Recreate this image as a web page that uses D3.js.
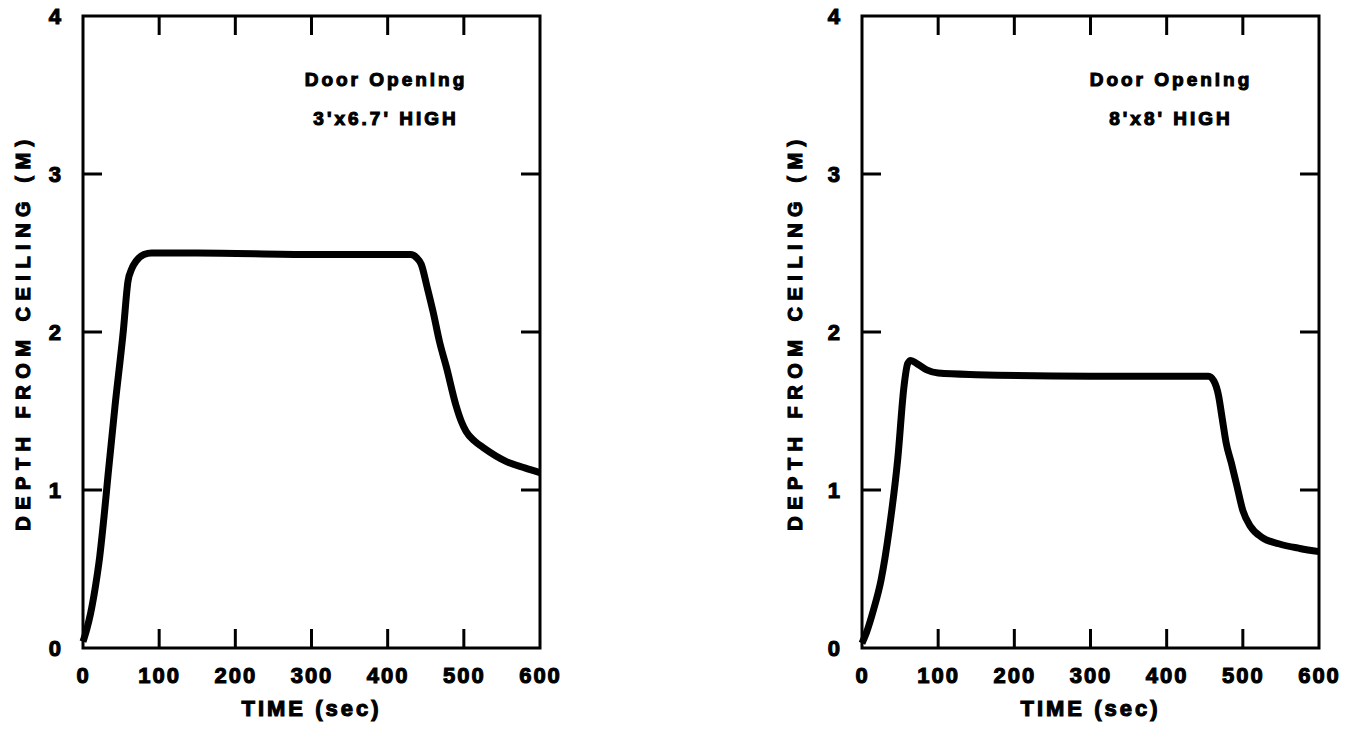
<!DOCTYPE html>
<html>
<head>
<meta charset="utf-8">
<script src="https://cdn.jsdelivr.net/npm/d3@7"></script>
<style>
  body { margin: 0; background: #fff; }
  svg text { font-family: 'Liberation Sans', Arial, sans-serif; font-weight: bold; fill: #000; stroke: #000; stroke-width: 1.1px; }
</style>
</head>
<body>
<div id="chart"></div>
<script>
// ---------------------------------------------------------- Data
var xTicks = [0, 100, 200, 300, 400, 500, 600];
var yTicks = [0, 1, 2, 3, 4];

// 3' x 6.7' door
var timeLeft  = [0, 5, 10, 16, 22, 28, 33, 42, 53, 59, 64, 70, 80, 90, 150, 300, 430, 438, 444, 452, 460, 468, 477, 490, 497, 503, 514, 525, 556, 580, 600];
var depthLeft = [0.04, 0.12, 0.22, 0.38, 0.58, 0.85, 1.1, 1.53, 2.01, 2.32, 2.4, 2.45, 2.49, 2.5, 2.5, 2.49, 2.49, 2.47, 2.43, 2.28, 2.12, 1.94, 1.78, 1.53, 1.43, 1.37, 1.31, 1.27, 1.18, 1.14, 1.11];

// 8' x 8' door
var timeRight  = [0, 6, 15, 25, 36, 47, 55, 60, 64, 72, 85, 100, 150, 300, 440, 455, 462, 468, 473, 478, 485, 492, 500, 510, 525, 547, 575, 600];
var depthRight = [0.03, 0.1, 0.24, 0.43, 0.76, 1.2, 1.65, 1.8, 1.82, 1.8, 1.76, 1.74, 1.73, 1.72, 1.72, 1.72, 1.69, 1.6, 1.45, 1.3, 1.17, 1.03, 0.87, 0.77, 0.7, 0.66, 0.63, 0.61];

var notesLeft  = ['Door Opening', "3'x6.7' HIGH"];
var notesRight = ['Door Opening', "8'x8' HIGH"];

var xTitle = 'TIME (sec)',
    yTitle = 'DEPTH FROM CEILING (M)';
// --------------------------------------------------------- /Data

var width = 457,
    height = 632,
    tickLen = 19;

var svg = d3.select('#chart').append('svg')
    .attr('width', 1369)
    .attr('height', 735);

function drawPanel(left, top, times, depths, notes, noteX, titleOffset) {
  var x = d3.scaleLinear().domain([0, 600]).range([0, width]);
  var y = d3.scaleLinear().domain([0, 4]).range([height, 0]);

  var g = svg.append('g')
      .attr('transform', 'translate(' + left + ',' + top + ')');

  // frame
  g.append('rect')
      .attr('width', width)
      .attr('height', height)
      .attr('fill', 'none')
      .attr('stroke', '#000')
      .attr('stroke-width', 3);

  var inner = xTicks.slice(1, -1),
      innerY = yTicks.slice(1, -1);

  var bottom = g.append('g')
      .attr('transform', 'translate(0,' + height + ')')
      .call(d3.axisBottom(x).tickValues(xTicks).tickFormat(d3.format('d')).tickSize(0).tickPadding(19));
  bottom.selectAll('text').style('font-size', '22px').style('letter-spacing', '2px');

  var leftAx = g.append('g')
      .call(d3.axisLeft(y).tickValues(yTicks).tickFormat(d3.format('d')).tickSize(0).tickPadding(22));
  leftAx.selectAll('text').style('font-size', '22px').attr('dy', '0.36em');

  [bottom, leftAx].forEach(function(a) { a.select('.domain').remove(); });

  // inward tick marks on all four sides
  var ticks = g.append('g')
      .attr('stroke', '#000')
      .attr('stroke-width', 3);

  ticks.selectAll('.tb').data(inner).enter().append('line')
      .attr('x1', function(d) { return x(d); })
      .attr('x2', function(d) { return x(d); })
      .attr('y1', height).attr('y2', height - tickLen);
  ticks.selectAll('.tt').data(inner).enter().append('line')
      .attr('x1', function(d) { return x(d); })
      .attr('x2', function(d) { return x(d); })
      .attr('y1', 0).attr('y2', tickLen);
  ticks.selectAll('.tl').data(innerY).enter().append('line')
      .attr('y1', function(d) { return y(d); })
      .attr('y2', function(d) { return y(d); })
      .attr('x1', 0).attr('x2', tickLen);
  ticks.selectAll('.tr').data(innerY).enter().append('line')
      .attr('y1', function(d) { return y(d); })
      .attr('y2', function(d) { return y(d); })
      .attr('x1', width).attr('x2', width - tickLen);

  // curve
  var line = d3.line()
      .x(function(d) { return x(d[0]); })
      .y(function(d) { return y(d[1]); })
      .curve(d3.curveMonotoneX);

  g.append('path')
      .datum(d3.zip(times, depths))
      .attr('fill', 'none')
      .attr('stroke', '#000')
      .attr('stroke-width', 7)
      .attr('stroke-linejoin', 'round')
      .attr('d', line);

  // axis titles
  g.append('text')
      .attr('x', width / 2)
      .attr('y', height + 68)
      .attr('text-anchor', 'middle')
      .style('font-size', '22px')
      .style('letter-spacing', '3px')
      .text(xTitle);

  g.append('text')
      .attr('transform', 'translate(' + (-titleOffset) + ',' + (height / 2) + ') rotate(-90)')
      .attr('text-anchor', 'middle')
      .attr('dy', '0.36em')
      .style('font-size', '20px')
      .style('letter-spacing', '6.5px')
      .text(yTitle);

  // note
  g.selectAll('.note')
      .data(notes)
    .enter().append('text')
      .attr('class', 'note')
      .attr('x', noteX)
      .attr('y', function(d, i) { return 70 + i * 39; })
      .attr('text-anchor', 'middle')
      .style('font-size', '19px')
      .style('letter-spacing', '3px')
      .text(function(d) { return d; });
}

drawPanel(83, 16, timeLeft, depthLeft, notesLeft, 303, 60);
drawPanel(862, 16, timeRight, depthRight, notesRight, 309, 67);
</script>
</body>
</html>
